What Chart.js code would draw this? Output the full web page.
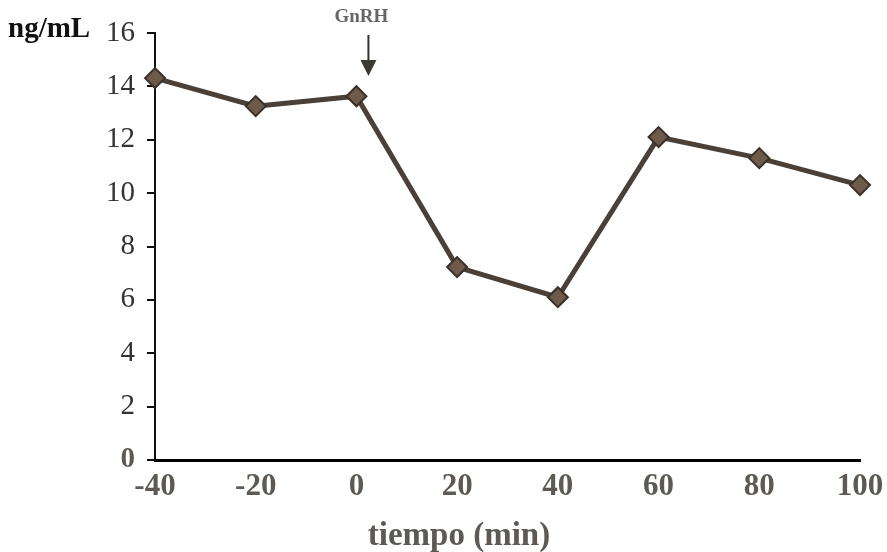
<!DOCTYPE html>
<html>
<head>
<meta charset="utf-8">
<script src="https://cdn.jsdelivr.net/npm/chart.js@4"></script>
<style>
  html, body { margin: 0; padding: 0; background: #fff; }
  canvas { display: block; }
</style>
</head>
<body>
<canvas id="chart" width="887" height="552"></canvas>
<script>
// Data
const times = [-40, -20, 0, 20, 40, 60, 80, 100];
const values = [14.31, 13.26, 13.63, 7.23, 6.10, 12.10, 11.31, 10.30];
const xTicks = [-40, -20, 0, 20, 40, 60, 80, 100];
const yTicks = [0, 2, 4, 6, 8, 10, 12, 14, 16];

const serif = '"Liberation Serif", "Times New Roman", serif';

// extra text: unit label, GnRH arrow, x title
const annotations = {
    id: 'annotations',
    afterDraw(chart) {
        const ctx = chart.ctx;
        const x = chart.scales.x;
        const y = chart.scales.y;
        ctx.save();

        ctx.fillStyle = '#111';
        ctx.font = 'bold 29px ' + serif;
        ctx.textAlign = 'left';
        ctx.textBaseline = 'middle';
        ctx.fillText('ng/mL', 8, y.getPixelForValue(16) - 3);

        // GnRH marker above time 0
        const gx = x.getPixelForValue(0) + 12;
        ctx.fillStyle = '#666';
        ctx.font = 'bold 19px ' + serif;
        ctx.textAlign = 'center';
        ctx.fillText('GnRH', gx - 7, 17);
        ctx.strokeStyle = '#333';
        ctx.lineWidth = 2;
        ctx.beginPath();
        ctx.moveTo(gx, 35);
        ctx.lineTo(gx, 62);
        ctx.stroke();
        ctx.fillStyle = '#3d3a36';
        ctx.beginPath();
        ctx.moveTo(gx - 8, 60);
        ctx.lineTo(gx + 8, 60);
        ctx.lineTo(gx, 76);
        ctx.closePath();
        ctx.fill();

        ctx.fillStyle = '#5e5954';
        ctx.font = 'bold 33px ' + serif;
        ctx.fillText('tiempo (min)', 459, 536);
        ctx.restore();
    }
};

new Chart(document.getElementById('chart'), {
    type: 'line',
    data: {
        datasets: [{
            data: times.map((t, i) => ({ x: t, y: values[i] })),
            borderColor: '#4a4037',
            borderWidth: 5,
            pointStyle: 'rectRot',
            pointRadius: 10,
            pointBackgroundColor: '#6e5a48',
            pointBorderColor: '#3a302a',
            pointBorderWidth: 2,
            tension: 0,
            clip: false
        }]
    },
    options: {
        responsive: false,
        animation: false,
        layout: { padding: { left: 0, right: 27, top: 33, bottom: 0 } },
        plugins: {
            legend: { display: false },
            tooltip: { enabled: false }
        },
        scales: {
            x: {
                type: 'linear',
                min: -40,
                max: 100,
                afterBuildTicks: s => { s.ticks = xTicks.map(v => ({ value: v })); },
                afterFit: s => { s.height = 92; },
                grid: { display: false },
                border: { display: true, color: '#000', width: 3 },
                ticks: {
                    color: '#5e5954',
                    padding: 0,
                    font: { family: serif, size: 31, weight: 'bold' }
                }
            },
            y: {
                min: 0,
                max: 16,
                afterBuildTicks: s => { s.ticks = yTicks.map(v => ({ value: v })); },
                afterFit: s => { s.width = 155; },
                grid: {
                    drawOnChartArea: false,
                    drawTicks: true,
                    tickLength: 8,
                    color: '#111',
                    lineWidth: 2
                },
                border: { display: true, color: '#111', width: 2 },
                ticks: {
                    padding: 12,
                    color: c => c.tick && c.tick.value === 0 ? '#5e5954' : '#333',
                    font: c => ({
                        family: serif,
                        size: 29,
                        weight: c.tick && c.tick.value === 0 ? 'bold' : 'normal'
                    })
                }
            }
        }
    },
    plugins: [annotations]
});
</script>
</body>
</html>
